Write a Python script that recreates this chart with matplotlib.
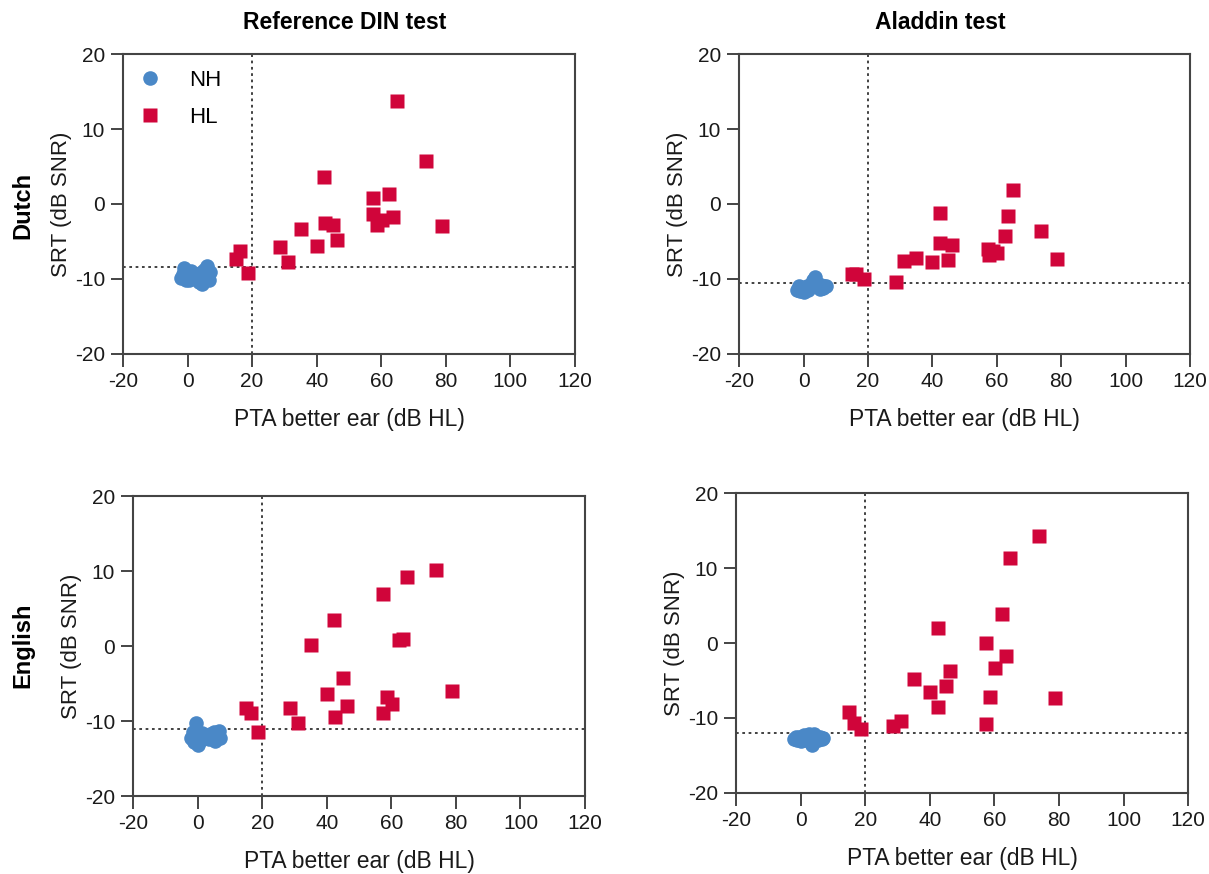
#!/usr/bin/env python3
# -*- coding: utf-8 -*-
##===========================================
# SRT vs PTA better ear, Dutch/English, DIN vs Aladdin
##===========================================
import numpy as np
import matplotlib
matplotlib.use('Agg')
import matplotlib.pyplot as plt
import matplotlib.ticker as ticker

plt.rcParams['font.family'] = ['Liberation Sans', 'DejaVu Sans']
plt.rcParams['axes.unicode_minus'] = False

##===========================================
# Data
##===========================================
col_titles = ['Reference DIN test', 'Aladdin test']
row_titles = ['Dutch', 'English']

# hearing loss group, PTA better ear (dB HL)
hl_pta = [15.0, 16.4, 18.7, 28.6, 31.1, 35.0, 40.0, 42.4, 42.5, 44.9,
          46.2, 57.4, 57.5, 58.7, 60.1, 62.4, 63.6, 65.0, 73.7, 78.7]
hl_dutch_din = [-7.4, -6.3, -9.2, -5.7, -7.8, -3.4, -5.6, 3.6, -2.6, -2.8,
                -4.8, 0.8, -1.3, -2.8, -2.1, 1.3, -1.8, 13.7, 5.7, -2.9]
hl_dutch_aladdin = [-9.3, -9.3, -10.0, -10.4, -7.6, -7.2, -7.8, -1.2, -5.2, -7.5,
                    -5.5, -6.0, -6.8, -6.3, -6.6, -4.3, -1.6, 1.9, -3.6, -7.4]
hl_english_din = [-8.2, -8.9, -11.4, -8.2, -10.3, 0.2, -6.4, 3.5, -9.4, -4.2,
                  -8.0, 7.0, -8.9, -6.8, -7.7, 0.8, 0.9, 9.2, 10.1, -6.0]
hl_english_aladdin = [-9.2, -10.7, -11.5, -11.1, -10.4, -4.8, -6.5, 2.0, -8.6, -5.8,
                      -3.8, 0.0, -10.8, -7.2, -3.3, 3.9, -1.8, 11.4, 14.3, -7.3]

# normal hearing group
nh_pta = [-2.0, -1.5, -1.0, -0.5, 0.0, 0.5, 1.0, 1.5, 2.5,
          3.0, 3.5, 4.0, 4.5, 5.0, 5.5, 6.0, 6.5, 7.0]
nh_dutch_din = [-9.9, -9.3, -8.6, -10.1, -9.5, -10.2, -9.0, -9.8, -10.0,
                -9.4, -10.4, -9.2, -10.7, -8.8, -9.6, -8.3, -10.2, -9.1]
nh_dutch_aladdin = [-11.5, -11.0, -11.6, -11.2, -11.8, -11.3, -10.9, -11.5, -10.6,
                    -10.2, -9.8, -10.4, -11.0, -11.4, -10.8, -11.2, -10.9, -11.0]
nh_english_din = [-12.2, -11.5, -12.8, -10.2, -13.2, -11.8, -12.5, -11.6, -12.3,
                  -11.9, -12.4, -11.7, -12.0, -11.5, -12.6, -11.8, -11.3, -12.2]
nh_english_aladdin = [-12.8, -12.5, -13.0, -12.6, -13.1, -12.7, -12.3, -12.9, -12.1,
                      -12.4, -13.6, -12.2, -12.7, -12.5, -12.9, -12.6, -12.8, -12.7]

# reference lines (cut-off SRT and PTA)
srt_cutoff = [-8.4, -10.5, -11.0, -12.0]
pta_cutoff = 20

##===========================================
# Plot
##===========================================
blue = '#4A88C7'
red = '#D0053A'
txt = '#1a1a1a'

fig = plt.figure(figsize=(12.09, 8.74), dpi=100)
positions = [[0.1017, 0.5950, 0.3739, 0.3432],
             [0.6113, 0.5950, 0.3731, 0.3432],
             [0.1100, 0.0892, 0.3739, 0.3432],
             [0.6088, 0.0927, 0.3739, 0.3432]]

nh_sets = [nh_dutch_din, nh_dutch_aladdin, nh_english_din, nh_english_aladdin]
hl_sets = [hl_dutch_din, hl_dutch_aladdin, hl_english_din, hl_english_aladdin]

axes = []
for i in range(4):
    ax = fig.add_axes(positions[i])
    axes.append(ax)
    ax.axvline(pta_cutoff, color='#333333', lw=1.3, ls=(0, (1.5, 2.0)), zorder=1)
    ax.axhline(srt_cutoff[i], color='#333333', lw=1.3, ls=(0, (1.5, 2.0)), zorder=1)
    ax.plot(nh_pta, nh_sets[i], 'o', color=blue, ms=10.5, mec='none', label='NH', zorder=3)
    ax.plot(hl_pta, hl_sets[i], 's', color=red, ms=9.5, mec='none', label='HL', zorder=3)

    ax.set_xlim(-20, 120)
    ax.set_ylim(-20, 20)
    ax.xaxis.set_major_locator(ticker.MultipleLocator(20))
    ax.yaxis.set_major_locator(ticker.MultipleLocator(10))
    ax.tick_params(direction='out', length=9, width=1.4, labelsize=15,
                   colors=txt, pad=4)
    ax.tick_params(axis='both', color='#444444')
    for s in ax.spines.values():
        s.set_color('#444444')
        s.set_linewidth(1.5)
    ax.set_xlabel('PTA better ear (dB HL)', fontsize=16.5, color=txt, labelpad=12)
    ax.set_ylabel('SRT (dB SNR)', fontsize=16, color=txt, labelpad=2)

leg = axes[0].legend(loc='upper left', frameon=False, fontsize=16,
                     handlelength=1.0, handletextpad=1.3, labelspacing=0.75,
                     borderaxespad=0.3, borderpad=0.4)

# column and row titles
fig.text(0.285, 0.974, col_titles[0], fontsize=16.5, fontweight='bold', ha='center', va='center')
fig.text(0.778, 0.974, col_titles[1], fontsize=16.5, fontweight='bold', ha='center', va='center')
fig.text(0.019, 0.765, row_titles[0], fontsize=17, fontweight='bold', ha='center', va='center', rotation=90)
fig.text(0.019, 0.262, row_titles[1], fontsize=17, fontweight='bold', ha='center', va='center', rotation=90)

plt.savefig('out.png', dpi=100)
